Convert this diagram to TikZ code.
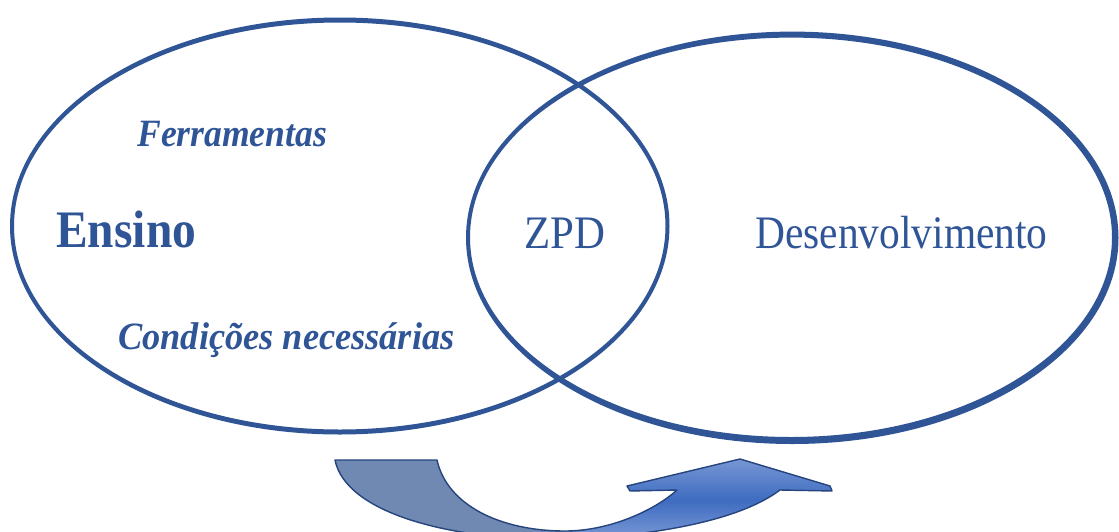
\documentclass[tikz,border=0pt]{standalone}
\usepackage{fontspec}
\setmainfont{Liberation Serif}
\definecolor{ellblue}{RGB}{47,85,151}
\definecolor{tailblue}{RGB}{112,137,178}
\definecolor{headmid}{RGB}{62,108,192}
\definecolor{headlight}{RGB}{125,155,215}
\definecolor{arrowline}{RGB}{38,68,125}

\begin{document}
\begin{tikzpicture}[x=0.02cm,y=-0.02cm,
  lbl/.style={anchor=base west, inner sep=0pt, text=ellblue},
  ring/.style={fill=ellblue, even odd rule},
  bigsz/.style={font=\bfseries\fontsize{30}{30}\selectfont},
  midsz/.style={font=\fontsize{26.5}{26.5}\selectfont},
  itsz/.style={font=\bfseries\itshape\fontsize{22}{22}\selectfont}]
\clip (0,0) rectangle (1119,531);
\fill[white] (0,0) rectangle (1119,531);

% the two overlapping sets, drawn as rings so the stroke can vary in weight
\fill[ring] (339.75,226) ellipse [x radius=329.75, y radius=208.5]
            (339.75,226) ellipse [x radius=325.75, y radius=203.5];
\fill[ring] (792.25,237.8) ellipse [x radius=326.25, y radius=206.2]
            (791,237.3) ellipse [x radius=321, y radius=199.7];

% labels
\node[lbl, itsz] (ferr) at (137,146) {\scalebox{0.92}[1]{Ferramentas}};
\node[lbl, bigsz] (ensino) at (56,247) {\scalebox{0.9}[1]{Ensino}};
\node[lbl, midsz] (zpd) at (524,248) {\scalebox{0.92}[1]{ZPD}};
\node[lbl, midsz] (desenv) at (755,248) {\scalebox{0.89}[1]{Desenvolvimento}};
\node[lbl, itsz] (cond) at (118,349) {\scalebox{0.94}[1]{Condições necessárias}};

% curved arrow below: flat tail piece and shaded head piece
\fill[tailblue] (335,460) -- (437,460)
  .. controls (447,505) and (500,531) .. (565,531) -- (565,540)
  .. controls (440,540) and (345,510) .. (335,460) -- cycle;
\begin{scope}
  \clip (565,531) .. controls (610,531) and (655,510) .. (677,490)
    -- (630,491) -- (627,486) -- (740,459) -- (830,486) -- (832,491) -- (780,490)
    .. controls (740,520) and (660,535) .. (565,540) -- cycle;
  \shade[top color=headlight, bottom color=headmid] (560,455) rectangle (840,500);
  \shade[top color=headmid, bottom color=headlight] (560,500) rectangle (840,541);
\end{scope}
\draw[arrowline, line width=0.8pt, line join=round]
  (335,460) -- (437,460)
  .. controls (447,505) and (500,531) .. (565,531)
  .. controls (610,531) and (655,510) .. (677,490)
  -- (630,491) -- (627,486) -- (740,459) -- (830,486) -- (832,491) -- (780,490)
  .. controls (740,520) and (660,535) .. (565,540)
  .. controls (440,540) and (345,510) .. (335,460) -- cycle;
\end{tikzpicture}
\end{document}
